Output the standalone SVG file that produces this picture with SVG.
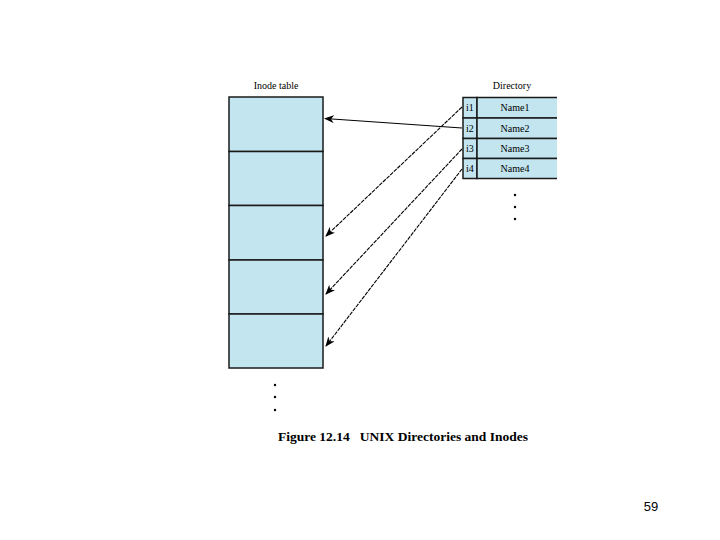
<svg xmlns="http://www.w3.org/2000/svg" width="720" height="540" viewBox="0 0 720 540">
<defs>
<marker id="ah" markerWidth="10" markerHeight="8" refX="9" refY="4" orient="auto" markerUnits="userSpaceOnUse">
<path d="M0,0 L10,4 L0,8 L3,4 Z" fill="#000"/>
</marker>
<clipPath id="dirclip"><rect x="440" y="90" width="117" height="100"/></clipPath>
<style>
.cell{fill:#c3e5f0;stroke:#1a1a1a;stroke-width:1.5}
.lbl{font-family:"Liberation Serif",serif;font-size:10px;fill:#000}
.nm{font-family:"Liberation Serif",serif;font-size:10px;fill:#000;text-anchor:middle}
.con{stroke:#000;stroke-width:1.1;fill:none;marker-end:url(#ah)}
.dash{stroke-dasharray:4 1}
.dot{fill:#000}
</style>
</defs>
<rect width="720" height="540" fill="#fff"/>
<g id="inode-table">
<text class="nm" x="276" y="89">Inode table</text>
<rect class="cell" x="229" y="97" width="94" height="54.5"/>
<rect class="cell" x="229" y="151.5" width="94" height="54"/>
<rect class="cell" x="229" y="205.5" width="94" height="54.5"/>
<rect class="cell" x="229" y="260" width="94" height="54"/>
<rect class="cell" x="229" y="314" width="94" height="54"/>
<circle class="dot" cx="275" cy="385" r="1.2"/>
<circle class="dot" cx="275" cy="397" r="1.2"/>
<circle class="dot" cx="275" cy="410" r="1.2"/>
</g>
<g id="directory">
<text class="nm" x="512" y="89">Directory</text>
<g clip-path="url(#dirclip)">
<rect class="cell" x="463" y="97.5" width="14" height="20.5"/>
<rect class="cell" x="477" y="97.5" width="90" height="20.5"/>
<rect class="cell" x="463" y="118" width="14" height="20.5"/>
<rect class="cell" x="477" y="118" width="90" height="20.5"/>
<rect class="cell" x="463" y="138.5" width="14" height="20"/>
<rect class="cell" x="477" y="138.5" width="90" height="20"/>
<rect class="cell" x="463" y="158.5" width="14" height="20"/>
<rect class="cell" x="477" y="158.5" width="90" height="20"/>
</g>
<text class="lbl" x="466" y="111">i1</text>
<text class="lbl" x="466" y="131.5">i2</text>
<text class="lbl" x="466" y="152">i3</text>
<text class="lbl" x="466" y="172">i4</text>
<text class="nm" x="515" y="111">Name1</text>
<text class="nm" x="515" y="131.5">Name2</text>
<text class="nm" x="515" y="152">Name3</text>
<text class="nm" x="515" y="172">Name4</text>
<circle class="dot" cx="515" cy="195" r="1.2"/>
<circle class="dot" cx="515" cy="207" r="1.2"/>
<circle class="dot" cx="515" cy="219" r="1.2"/>
</g>
<g id="connectors">
<line class="con" x1="462" y1="128" x2="325" y2="118.5"/>
<line class="con dash" x1="462" y1="107" x2="326" y2="236"/>
<line class="con dash" x1="462" y1="149" x2="326" y2="294"/>
<line class="con dash" x1="462" y1="169" x2="326" y2="346"/>
</g>
<text x="278" y="441" font-family="Liberation Serif,serif" font-size="13.5" font-weight="bold" fill="#000" xml:space="preserve">Figure 12.14   UNIX Directories and Inodes</text>
<text x="651" y="511" font-family="Liberation Sans,sans-serif" font-size="13" fill="#000" text-anchor="middle">59</text>
</svg>
